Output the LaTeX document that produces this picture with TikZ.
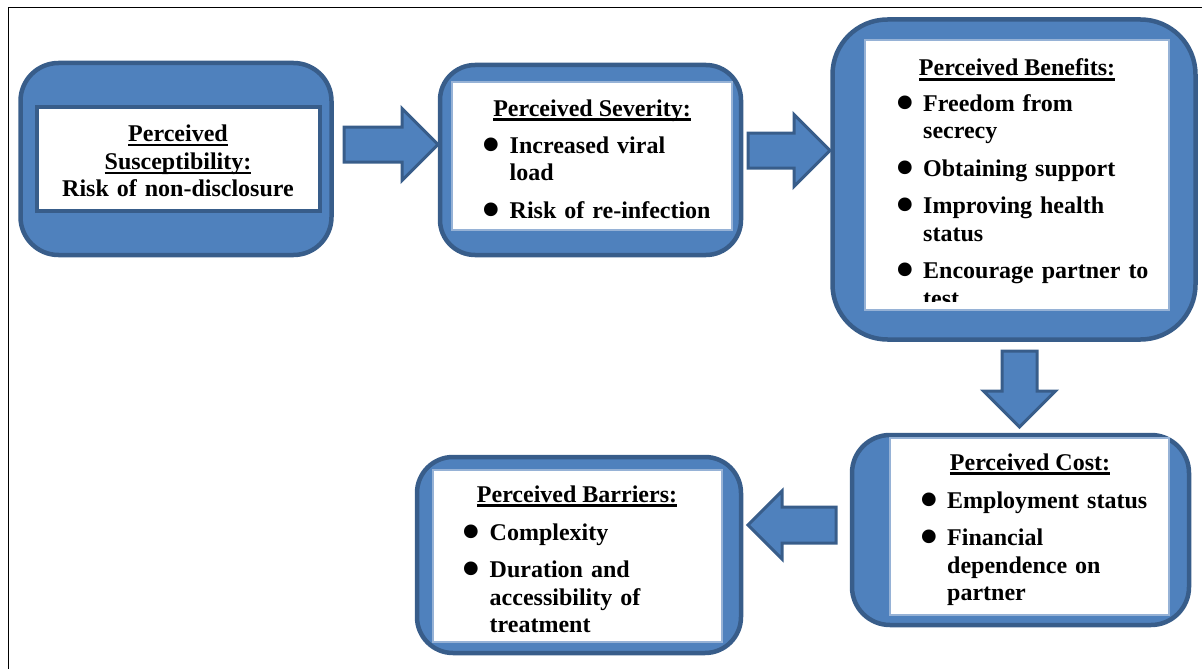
\documentclass[tikz,border=0pt]{standalone}
\usepackage{fontspec}
\setmainfont{Liberation Serif}
\usetikzlibrary{shapes.arrows}

\definecolor{hbmfill}{RGB}{79,129,189}
\definecolor{hbmline}{RGB}{56,93,138}
\definecolor{hbmthin}{RGB}{150,178,214}

\newcommand{\uln}[1]{\leavevmode\setbox0\hbox{#1}\rlap{\rule[-4.6pt]{\wd0}{2.2pt}}\box0}
\newcommand{\itm}[1]{\noindent\hangindent=27pt\hangafter=1
  \makebox[27pt][l]{\raisebox{-8.1pt}{\scalebox{2.1}{\textbullet}}}#1\par}

\begin{document}
\begin{tikzpicture}[x=1pt, y=-1pt,
  every node/.style={font=\fontsize{24}{27.5}\selectfont\bfseries},
  outerbox/.style={draw=hbmline, fill=hbmfill, line width=4.5pt, inner sep=0pt},
  innerbox/.style={draw=hbmthin, fill=white, line width=1.2pt, inner sep=0pt},
  titletxt/.style={anchor=base, inner sep=0pt},
  listtxt/.style={anchor=base west, inner sep=0pt, text width=#1, align=left,
    execute at begin node={\setlength{\parskip}{10pt}}},
  blockarrow/.style={single arrow, draw=hbmline, fill=hbmfill, line width=3pt,
    inner xsep=0pt, inner ysep=16pt, single arrow head extend=18.5pt, anchor=tail}]
  \useasboundingbox (0,0) rectangle (1202,669);
  % frame
  \draw [line width=1.6pt] (8.5,669) -- (8.5,7.5) -- (1202,7.5);

  % susceptibility
  \node [outerbox, rounded corners=38pt, minimum width=311pt, minimum height=192pt] (sus) at (176,159) {};
  \node [innerbox, draw=hbmline, line width=4pt, minimum width=283pt, minimum height=104pt] (susin) at (178.5,159) {};
  \node [titletxt, text width=280pt, align=center] (sustxt) at (178,141.7)
    {\uln{Perceived}\\\uln{Susceptibility:}\\Risk of non-disclosure};

  % severity
  \node [outerbox, rounded corners=35pt, minimum width=301pt, minimum height=190pt] (sev) at (590.5,160) {};
  \node [innerbox, minimum width=280pt, minimum height=148pt] (sevin) at (592,156) {};
  \node [titletxt] (sevtitle) at (592,116) {\uln{Perceived Severity:}};
  \node [listtxt=240pt] (sevlist) at (482.5,153)
    {\itm{Increased viral\newline load}\itm{Risk of re-infection}};

  % benefits
  \node [outerbox, rounded corners=55pt, minimum width=363pt, minimum height=320pt] (ben) at (1014,179.5) {};
  \node [innerbox, minimum width=304pt, minimum height=270pt] (benin) at (1017,175) {};
  \node [titletxt] (bentitle) at (1017,76) {\uln{Perceived Benefits:}};
  \begin{scope}
    \clip (865,40) rectangle (1169,301);
    \node [listtxt=266pt] (benlist) at (896,111)
      {\itm{Freedom from\newline secrecy}\itm{Obtaining support}\itm{Improving health\newline status}\itm{Encourage partner to\newline test}};
  \end{scope}

  % cost
  \node [outerbox, rounded corners=38pt, minimum width=337pt, minimum height=190pt] (cost) at (1020.5,530) {};
  \node [innerbox, minimum width=279pt, minimum height=177pt] (costin) at (1029.5,526.5) {};
  \node [titletxt] (costtitle) at (1030,470) {\uln{Perceived Cost:}};
  \node [listtxt=244pt] (costlist) at (920,508)
    {\itm{Employment status}\itm{Financial\newline dependence on\newline partner}};

  % barriers
  \node [outerbox, rounded corners=36pt, minimum width=324pt, minimum height=196pt] (bar) at (579,555) {};
  \node [innerbox, minimum width=289pt, minimum height=172pt] (barin) at (577.5,556) {};
  \node [titletxt] (bartitle) at (577,502) {\uln{Perceived Barriers:}};
  \node [listtxt=234pt] (barlist) at (462.5,540)
    {\itm{Complexity}\itm{Duration and\newline accessibility of\newline treatment}};

  % arrows
  \node [blockarrow, minimum height=94pt] (susarrow) at (342.5,144.5) {};
  \node [blockarrow, minimum height=82pt] (sevarrow) at (746.5,150.5) {};
  \node [blockarrow, minimum height=76pt, shape border rotate=270, inner xsep=16pt,
    inner ysep=0pt] (benarrow) at (1019.5,349.5) {};
  \node [blockarrow, minimum height=88pt, shape border rotate=180, inner ysep=16.5pt,
    single arrow head extend=16pt] (costarrow) at (837.5,525) {};
\end{tikzpicture}
\end{document}
